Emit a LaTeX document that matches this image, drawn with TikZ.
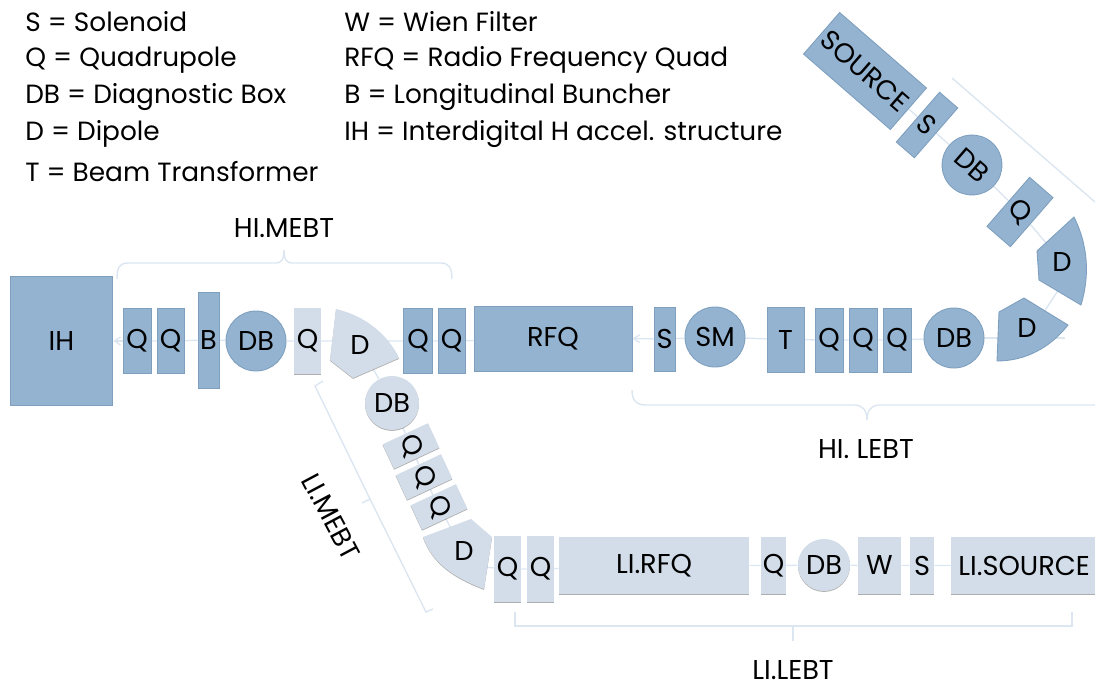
\documentclass[tikz,border=0pt]{standalone}
\usepackage{fontspec}
\setmainfont{Poppins}
\usetikzlibrary{arrows.meta,backgrounds,shadows}

\definecolor{hifill}{HTML}{93B3D1}
\definecolor{hiedge}{HTML}{7E9FBE}
\definecolor{lifill}{HTML}{D2DDE9}
\definecolor{beamline}{HTML}{DCE6F1}

\begin{document}
\begin{tikzpicture}[x=0.2mm, y=-0.2mm,
    hibox/.style={rectangle, draw=hiedge, fill=hifill, line width=0.5pt,
                inner sep=0pt, font=\fontsize{15.5}{17}\selectfont},
    libox/.style={rectangle, fill=lifill, inner sep=0pt,
                drop shadow={shadow xshift=0pt, shadow yshift=-0.5pt, opacity=0.45, fill=black!70},
                font=\fontsize{15.5}{17}\selectfont},
    hidisc/.style={hibox, circle, minimum size=12mm},
    lidisc/.style={libox, circle},
    dipname/.style={inner sep=0pt, font=\fontsize{15.5}{17}\selectfont},
    beam/.style={draw=beamline, line width=0.8pt},
    barr/.style={beam, -{Straight Barb[length=1.2mm,width=1.6mm]}},
    bracket/.style={draw=beamline, line width=0.8pt},
    legend/.style={anchor=west, inner sep=0pt, font=\fontsize{15}{17}\selectfont},
    tag/.style={inner sep=0pt, font=\fontsize{15.5}{17}\selectfont},
]
\useasboundingbox (0,0) rectangle (1095,683);

% --- Legend ---
\node[legend] (ls) at (25,22) {S = Solenoid};
\node[legend] (lq) at (25,60) {Q = Quadrupole};
\node[legend] (ldb) at (25,97) {DB = Diagnostic Box};
\node[legend] (ld) at (25,134) {D = Dipole};
\node[legend] (lt) at (25,172) {T = Beam Transformer};
\node[legend] (lw) at (344,22) {W = Wien Filter};
\node[legend] (lrfq) at (344,60) {RFQ = Radio Frequency Quad};
\node[legend] (lb) at (344,97) {B = Longitudinal Buncher};
\node[legend] (lih) at (344,134) {IH = Interdigital H accel. structure};

% --- HI line ---
\node[hibox, minimum width=20.5mm, minimum height=25.8mm] (ih) at (61.5,341) {IH};
\node[hibox, minimum width=5.6mm, minimum height=13mm] (hq1) at (137,341) {Q};
\node[hibox, minimum width=5.4mm, minimum height=13mm] (hq2) at (170.5,341) {Q};
\node[hibox, minimum width=4.2mm, minimum height=19.2mm] (hb) at (208.5,340) {B};
\node[hidisc] (hdb1) at (256,341) {DB};
\node[hibox, minimum width=5.8mm, minimum height=13mm] (hq3) at (418,341) {Q};
\node[hibox, minimum width=5.4mm, minimum height=13mm] (hq4) at (451.5,341) {Q};
\node[hibox, minimum width=31.6mm, minimum height=13mm] (rfq) at (553,338.5) {RFQ};
\node[hibox, minimum width=4.2mm, minimum height=12.8mm] (hs1) at (664.5,339) {S};
\node[hidisc] (sm) at (715,337) {SM};
\node[hibox, minimum width=7.4mm, minimum height=13mm] (ht) at (785.5,339.5) {T};
\node[hibox, minimum width=5.6mm, minimum height=12.8mm] (hq5) at (829,340) {Q};
\node[hibox, minimum width=5.6mm, minimum height=12.8mm] (hq6) at (863,340) {Q};
\node[hibox, minimum width=5.6mm, minimum height=12.8mm] (hq7) at (897,340) {Q};
\node[hidisc] (hdb2) at (954,338) {DB};

\draw[hibox] (999,312) -- (1024,298) -- (1068,325) .. controls (1050,348) and (1025,361) .. (997,361) -- cycle;
\node[dipname] (hd1) at (1027,328) {D};
\draw[hibox] (1074,217) -- (1037,251) -- (1039,280) -- (1081,305) .. controls (1090,275) and (1088,245) .. (1074,217) -- cycle;
\node[dipname] (hd2) at (1062,262) {D};

% --- HI source arm ---
\node[hibox, rotate=-41, minimum width=6.2mm, minimum height=13mm] (hq8) at (1020,212) {Q};
\node[hidisc, rotate=-41] (hdb3) at (972,165) {DB};
\node[hibox, rotate=-41, minimum width=4.8mm, minimum height=13.2mm] (hs2) at (927,125) {S};
\node[hibox, rotate=-41, minimum width=23mm, minimum height=11mm] (src) at (865,71) {SOURCE};

% --- LI line ---
\fill[libox] (336,309) .. controls (366,316) and (388,335) .. (399,358) -- (353,378) -- (330,360) -- cycle;
\node[dipname] (ld1) at (360,345) {D};
\node[libox, minimum width=5.4mm, minimum height=13.2mm] (lq1) at (307.5,341) {Q};
\node[lidisc, minimum size=10.8mm] (ldb1) at (392,403) {DB};
\node[libox, rotate=-65, minimum width=5.4mm, minimum height=10mm] (lq2) at (411,446) {Q};
\node[libox, rotate=-65, minimum width=5.4mm, minimum height=10mm] (lq3) at (424,477) {Q};
\node[libox, rotate=-65, minimum width=5.4mm, minimum height=10mm] (lq4) at (439,507) {Q};
\fill[libox] (423,537) -- (471,519) -- (492,537) -- (484,589) .. controls (452,577) and (432,562) .. (423,537) -- cycle;
\node[dipname] (ld2) at (464,551) {D};
\node[libox, minimum width=5.4mm, minimum height=13.2mm] (lq5) at (507.5,569) {Q};
\node[libox, minimum width=5.4mm, minimum height=13.2mm] (lq6) at (540.5,569) {Q};
\node[libox, minimum width=38mm, minimum height=11.4mm] (lrfqb) at (654,565.5) {LI.RFQ};
\node[libox, minimum width=5mm, minimum height=11.4mm] (lq7) at (773.5,565.5) {Q};
\node[lidisc, minimum size=10.4mm] (ldb2) at (824,565) {DB};
\node[libox, minimum width=8.6mm, minimum height=11.4mm] (lwf) at (879.5,565.5) {W};
\node[libox, minimum width=4.8mm, minimum height=11.4mm] (lsol) at (922,565.5) {S};
\node[libox, minimum width=32mm, minimum height=11.4mm] (lsrc) at (1031,565.5) {};
\node[dipname, anchor=west] (lsrcname) at (958,565.5) {LI.SOURCE};

% --- Beam pipes ---
\coordinate (hbeam) at (1065,338);
\coordinate (hdup) at (1067,277);
\coordinate (hdlo) at (1032,330);
\coordinate (ldbend) at (470,566);
\begin{scope}[on background layer]
\draw[beam] (hbeam) -- (hdb2);
\draw[beam] (hdb2) -- (hq7) -- (hq6) -- (hq5) -- (ht) -- (sm) -- (hs1);
\draw[barr] (hs1) -- (rfq.east);
\draw[beam] (rfq) -- (hq4) -- (hq3) -- (lq1) -- (hdb1) -- (hb) -- (hq2) -- (hq1);
\draw[barr] (hq1) -- (ih.east);
\draw[beam] (hdup) -- (hdlo);
\draw[beam] (hd2) -- (hq8) -- (hdb3) -- (hs2) -- (src);
\draw[beam] (ld1) -- (ldb1) -- (lq2) -- (lq3) -- (lq4) -- (ld2);
\draw[beam] (ldbend) -- (lq5) -- (lq6) -- (lrfqb) -- (lq7) -- (ldb2) -- (lwf) -- (lsol) -- (lsrc);
\end{scope}

% --- Brackets ---
\draw[bracket] (117,279) .. controls (117,268) and (119,263) .. (128,263) -- (276,263)
  .. controls (281,263) and (284,260) .. (284,250) .. controls (284,260) and (287,263) .. (292,263)
  -- (441,263) .. controls (449,263) and (452,268) .. (452,279);
\draw[bracket] (632,390) .. controls (632,400) and (636,405) .. (646,405) -- (855,405)
  .. controls (862,405) and (867,410) .. (867,420) .. controls (867,410) and (872,405) .. (879,405) -- (1095,405);
\draw[bracket] (515,612) -- (515,626) -- (793,626) -- (793,641) -- (793,626) -- (1072,626) -- (1072,612);
\draw[bracket] (323,381) -- (315,386) -- (370,499) -- (362,503) -- (370,499) -- (426,612) -- (433,609);
\draw[bracket] (952,78) -- (1095,202);

% --- Section names ---
\node[tag] (himebt) at (284,228) {HI.MEBT};
\node[tag] (hilebt) at (866,449) {HI. LEBT};
\node[tag] (lilebt) at (793,670) {LI.LEBT};
\node[tag, rotate=-62] (limebt) at (331,517) {LI.MEBT};

\end{tikzpicture}
\end{document}
